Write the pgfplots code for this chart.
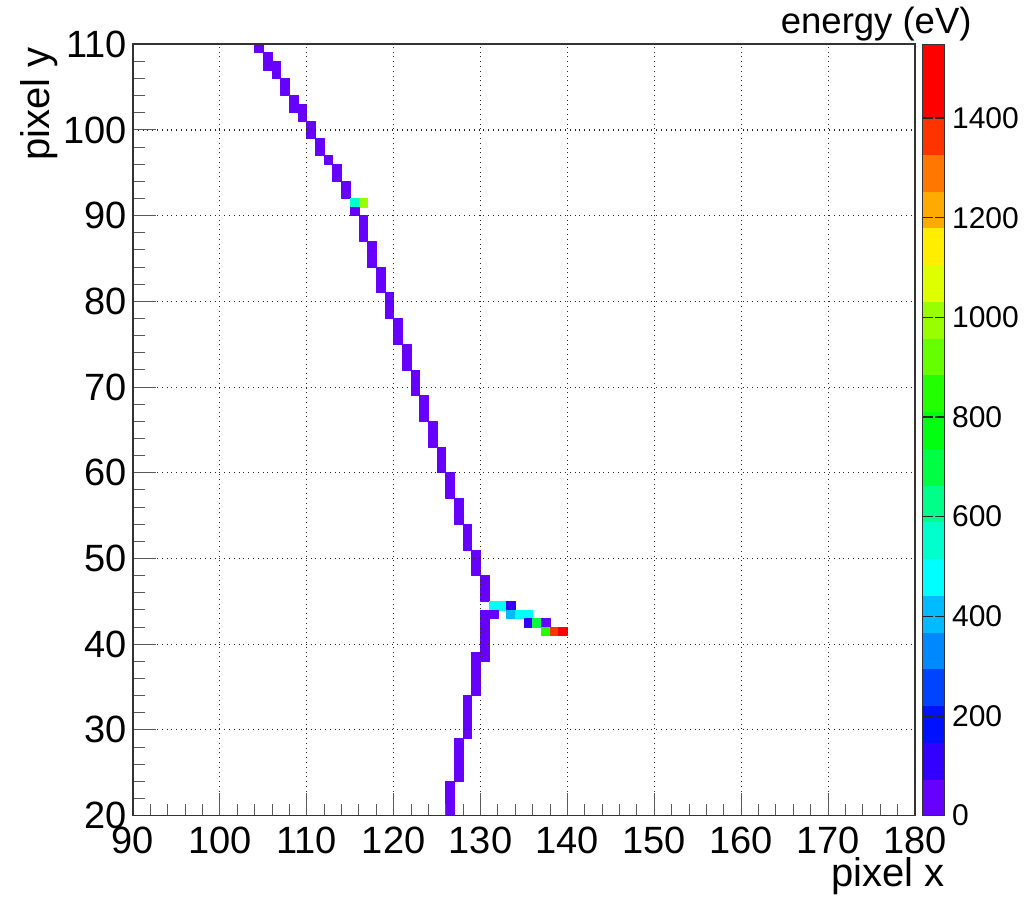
\documentclass[border=0pt]{standalone}
\usepackage{fontspec}
\setmainfont{Liberation Sans}
\usepackage{pgfplots}
\pgfplotsset{compat=1.18}
\usepackage{pgfplotstable}
\usepgfplotslibrary{patchplots}

% each hit rectangle: 4 corners (x, y) with its energy e in eV
\pgfplotstableread{
x y e
104 109 30
105 109 30
105 110 30
104 110 30
105 107 30
106 107 30
106 109 30
105 109 30
106 106 30
107 106 30
107 108 30
106 108 30
107 104 30
108 104 30
108 106 30
107 106 30
108 102 30
109 102 30
109 104 30
108 104 30
109 101 30
110 101 30
110 103 30
109 103 30
110 99 30
111 99 30
111 101 30
110 101 30
111 97 30
112 97 30
112 99 30
111 99 30
112 96 30
113 96 30
113 97 30
112 97 30
113 94 30
114 94 30
114 96 30
113 96 30
114 92 30
115 92 30
115 94 30
114 94 30
115 91 580
116 91 580
116 92 580
115 92 580
116 91 960
117 91 960
117 92 960
116 92 960
115 90 30
116 90 30
116 91 30
115 91 30
116 87 30
117 87 30
117 90 30
116 90 30
117 84 30
118 84 30
118 87 30
117 87 30
118 81 30
119 81 30
119 84 30
118 84 30
119 78 30
120 78 30
120 81 30
119 81 30
120 75 30
121 75 30
121 78 30
120 78 30
121 72 30
122 72 30
122 75 30
121 75 30
122 69 30
123 69 30
123 72 30
122 72 30
123 66 30
124 66 30
124 69 30
123 69 30
124 63 30
125 63 30
125 66 30
124 66 30
125 60 30
126 60 30
126 63 30
125 63 30
126 57 30
127 57 30
127 60 30
126 60 30
127 54 30
128 54 30
128 57 30
127 57 30
128 51 30
129 51 30
129 54 30
128 54 30
129 48 30
130 48 30
130 51 30
129 51 30
130 45 30
131 45 30
131 48 30
130 48 30
131 44 500
132 44 500
132 45 500
131 45 500
132 44 500
133 44 500
133 45 500
132 45 500
133 44 115
134 44 115
134 45 115
133 45 115
130 38 30
131 38 30
131 44 30
130 44 30
131 43 30
132 43 30
132 44 30
131 44 30
133 43 420
134 43 420
134 44 420
133 44 420
134 43 500
135 43 500
135 44 500
134 44 500
135 43 500
136 43 500
136 44 500
135 44 500
135 42 115
136 42 115
136 43 115
135 43 115
136 42 730
137 42 730
137 43 730
136 43 730
137 42 30
138 42 30
138 43 30
137 43 30
137 41 880
138 41 880
138 42 880
137 42 880
138 41 1350
139 41 1350
139 42 1350
138 42 1350
139 41 1500
140 41 1500
140 42 1500
139 42 1500
129 34 30
130 34 30
130 39 30
129 39 30
128 29 30
129 29 30
129 34 30
128 34 30
127 24 30
128 24 30
128 29 30
127 29 30
126 20 30
127 20 30
127 24 30
126 24 30
}\hits

\pgfplotsset{
  /pgf/number format/assume math mode=true,
  /pgf/number format/1000 sep={},
}

\begin{document}
\begin{tikzpicture}
\begin{axis}[
  at={(0,0)}, anchor=south west,
  scale only axis, width=391pt, height=385.65pt,
  xmin=90, xmax=180, ymin=20, ymax=110,
  xtick distance=10, ytick distance=10, minor tick num=4,
  tick align=inside, tick pos=left,
  major tick length=11.5pt, minor tick length=6pt,
  tick style={black!65, line width=0.5pt},
  grid=major, major grid style={black!85, dotted, line width=0.55pt},
  axis line style={black!80, line width=0.8pt},
  axis on top,
  tick label style={font=\fontsize{19}{19}\selectfont},
  xticklabel style={inner sep=0pt, anchor=north, yshift=-5.5pt},
  yticklabel style={inner sep=0pt, anchor=east, xshift=-3pt},
  colormap={rootrb}{rgb255=(102,0,255) rgb255=(51,0,255) rgb255=(0,17,255) rgb255=(0,68,255) rgb255=(0,136,255) rgb255=(0,187,255) rgb255=(0,255,255) rgb255=(0,255,204) rgb255=(0,255,136) rgb255=(0,255,68) rgb255=(0,255,17) rgb255=(34,255,0) rgb255=(102,255,0) rgb255=(153,255,0) rgb255=(221,255,0) rgb255=(255,238,0) rgb255=(255,170,0) rgb255=(255,119,0) rgb255=(255,51,0) rgb255=(255,0,0) rgb255=(255,0,0)},
  colormap access=piecewise constant,
  point meta min=0, point meta max=1548,
  colorbar,
  colorbar style={
    at={(parent axis.north east)}, anchor=north west, xshift=-4.68pt,
    scale only axis, width=11.15pt, height=385.65pt,
    ytick={0,200,...,1400}, minor tick num=0,
    tick align=inside, major tick length=5pt,
    ytick style={black!85, line width=0.6pt},
    yticklabel style={font=\fontsize{15}{15}\selectfont, inner sep=0pt, xshift=3.35pt},
    axis line style={black!80, line width=0.5pt},
    /pgf/number format/assume math mode=true,
    /pgf/number format/1000 sep={},
  },
]
\addplot[patch, patch type=rectangle, shader=flat, point meta=explicit]
  table[x=x, y=y, meta=e] {\hits};
\end{axis}
\node[anchor=base east, inner sep=0pt, font=\fontsize{18.25}{18}\selectfont] at (419.5pt,391pt) {energy (eV)};
\node[anchor=base east, inner sep=0pt, font=\fontsize{20}{20}\selectfont] at (406pt,-35.7pt) {pixel x};
\node[anchor=base east, rotate=90, inner sep=0pt, font=\fontsize{20}{20}\selectfont] at (-41.5pt,384.3pt) {pixel y};
\pgfresetboundingbox
\path[use as bounding box] (-66.5pt,-40.7pt) rectangle (446pt,407.8pt);
\end{tikzpicture}
\end{document}
